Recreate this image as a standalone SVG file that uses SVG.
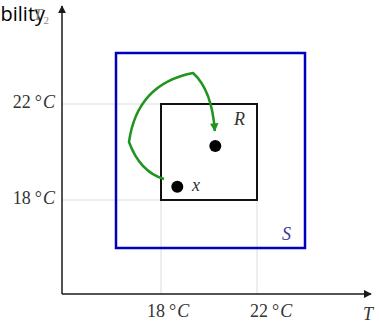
<svg xmlns="http://www.w3.org/2000/svg" width="379" height="325" viewBox="0 0 379 325">
<style>
.grid{stroke:#dcdcdc;stroke-width:1;fill:none}
.axis{stroke:#1a1a1a;stroke-width:1.5;fill:none}
.lbl{font-family:"Liberation Serif",serif;font-size:18px;fill:#333}
.it{font-style:italic}
</style>
<defs>
<marker id="ah" viewBox="0 0 10 10" refX="9" refY="5" markerWidth="8" markerHeight="8" markerUnits="userSpaceOnUse" orient="auto">
<path d="M0,0 L10,5 L0,10 z" fill="#1a1a1a"/>
</marker>
<marker id="gh" viewBox="0 0 10 10" refX="9" refY="5" markerWidth="4" markerHeight="3.4" orient="auto">
<path d="M0,0 L10,5 L0,10 z" fill="#1f941f"/>
</marker>
</defs>
<g id="grid">
<line class="grid" x1="62" y1="104" x2="161" y2="104"/>
<line class="grid" x1="62" y1="200" x2="161" y2="200"/>
<line class="grid" x1="161" y1="200" x2="161" y2="294"/>
<line class="grid" x1="257" y1="200" x2="257" y2="294"/>
</g>
<g id="axes">
<line class="axis" x1="62" y1="294" x2="62" y2="6" marker-end="url(#ah)"/>
<line class="axis" x1="62" y1="294" x2="371" y2="294" marker-end="url(#ah)"/>
</g>
<g id="S">
<rect x="116" y="53" width="189" height="195" fill="none" stroke="#0000c0" stroke-width="2.5"/>
<text x="282" y="240" font-family="Liberation Serif,serif" font-size="18" font-style="italic" fill="#3a3a9a">S</text>
</g>
<g id="R">
<rect x="161" y="104" width="96" height="96" fill="none" stroke="#111" stroke-width="2"/>
<text x="234" y="125" font-family="Liberation Serif,serif" font-size="18" font-style="italic" fill="#333">R</text>
</g>
<g id="x">
<circle cx="177.3" cy="186.7" r="6" fill="#000"/>
<text x="192" y="191" font-family="Liberation Serif,serif" font-size="18" font-style="italic" fill="#333">x</text>
</g>
<g id="y">
<circle cx="215.3" cy="146" r="6" fill="#000"/>
</g>
<g id="connectors">
<path d="M164,179 Q140,172 129,142 Q137,84 193,73 Q212,90 214.8,131" fill="none" stroke="#1f941f" stroke-width="2.5" stroke-linejoin="miter" marker-end="url(#gh)"/>
</g>
<g id="labels">
<text x="0.5" y="21" font-family="Open Sans,sans-serif" font-size="20" fill="#000">bility</text>
<text x="33" y="20" font-family="Liberation Serif,serif" font-size="17" font-style="italic" fill="#8a8a8a">T<tspan font-size="11" font-style="normal" dy="4" dx="1">2</tspan></text>
<text class="lbl" x="55" y="108" text-anchor="end">22<tspan dx="4">°</tspan><tspan class="it" dx="1">C</tspan></text>
<text class="lbl" x="55" y="204" text-anchor="end">18<tspan dx="4">°</tspan><tspan class="it" dx="1">C</tspan></text>
<text class="lbl" x="147" y="317">18<tspan dx="4">°</tspan><tspan class="it" dx="1">C</tspan></text>
<text class="lbl" x="250" y="317">22<tspan dx="4">°</tspan><tspan class="it" dx="1">C</tspan></text>
<text x="363" y="320" font-family="Liberation Serif,serif" font-size="18" font-style="italic" fill="#333">T</text>
</g>
</svg>
